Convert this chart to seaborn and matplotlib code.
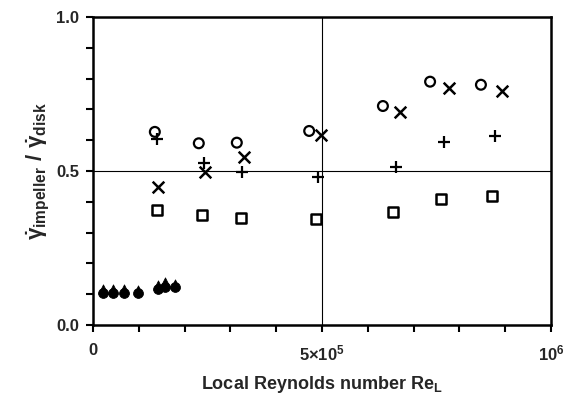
import numpy as np
import pandas as pd
import matplotlib
matplotlib.use("Agg")
import matplotlib.pyplot as plt
import seaborn as sns

# --- data ---
circ_x = [1.35e5, 2.31e5, 3.14e5, 4.72e5, 6.33e5, 7.36e5, 8.47e5]
circ_y = [0.627, 0.590, 0.592, 0.630, 0.711, 0.790, 0.780]

cross_x = [1.42e5, 2.45e5, 3.30e5, 4.98e5, 6.70e5, 7.77e5, 8.93e5]
cross_y = [0.448, 0.497, 0.545, 0.617, 0.690, 0.770, 0.760]

plus_x = [1.40e5, 2.42e5, 3.25e5, 4.91e5, 6.62e5, 7.66e5, 8.78e5]
plus_y = [0.604, 0.526, 0.497, 0.480, 0.513, 0.594, 0.614]

sq_x = [1.40e5, 2.38e5, 3.23e5, 4.87e5, 6.55e5, 7.60e5, 8.71e5]
sq_y = [0.373, 0.357, 0.347, 0.344, 0.367, 0.409, 0.419]

fc_x = [2.2e4, 4.4e4, 6.8e4, 9.8e4, 1.42e5, 1.57e5, 1.79e5]
fc_y = [0.105, 0.105, 0.105, 0.103, 0.118, 0.125, 0.123]

ft_x = [2.2e4, 4.4e4, 6.8e4, 9.8e4, 1.42e5, 1.57e5, 1.79e5]
ft_y = [0.118, 0.118, 0.118, 0.113, 0.130, 0.140, 0.133]

xticks = [0, 5e5, 1e6]
xticklabels = ["0", r"5$\times$10$^5$", r"10$^6$"]
yticks = [0.0, 0.5, 1.0]
yticklabels = ["0.0", "0.5", "1.0"]

sns.set_style("ticks")
plt.rcParams['font.family'] = ['Liberation Sans', 'DejaVu Sans']
plt.rcParams['font.weight'] = 'bold'
plt.rcParams['mathtext.fontset'] = 'custom'
plt.rcParams['mathtext.rm'] = 'Liberation Sans:bold'
plt.rcParams['mathtext.it'] = 'Liberation Sans:bold'
plt.rcParams['mathtext.bf'] = 'Liberation Sans:bold'
plt.rcParams['mathtext.default'] = 'bf'

fig = plt.figure(figsize=(5.68, 3.98), dpi=100)
ax = fig.add_axes([93/568, 1-325/398, (551-93)/568, (325-17)/398])

# filled circles and triangles
sns.scatterplot(x=fc_x, y=fc_y, marker='o', s=50, color='black', edgecolor='black', ax=ax, zorder=3)
sns.scatterplot(x=ft_x, y=ft_y, marker='^', s=45, color='black', edgecolor='black', ax=ax, zorder=3)
# open circles
sns.scatterplot(x=circ_x, y=circ_y, marker='o', s=50, facecolor='none', edgecolor='black', linewidth=1.6, ax=ax, zorder=3)
# open squares
sns.scatterplot(x=sq_x, y=sq_y, marker='s', s=55, facecolor='none', edgecolor='black', linewidth=1.8, ax=ax, zorder=3)
# crosses
sns.scatterplot(x=cross_x, y=cross_y, marker='x', s=70, color='black', linewidth=1.8, ax=ax, zorder=3)
# plus
sns.scatterplot(x=plus_x, y=plus_y, marker='+', s=80, color='black', linewidth=1.6, ax=ax, zorder=3)

ax.set_xlim(0, 1e6)
ax.set_ylim(0, 1.0)
ax.axvline(5e5, color='black', lw=0.8, zorder=1)
ax.axhline(0.5, color='black', lw=0.8, zorder=1)

for sp in ax.spines.values():
    sp.set_color('black')
    sp.set_linewidth(1.8)

ax.set_xlabel(r"Local Reynolds number Re$_\mathbf{L}$", fontsize=13, fontweight='bold', labelpad=8)
ax.set_ylabel(r"$\dot{\gamma}_{\mathbf{impeller}}\ /\ \dot{\gamma}_{\mathbf{disk}}$", fontsize=16, labelpad=4)

ax.set_xticks(xticks)
ax.set_xticks(np.arange(0, 1e6 + 1, 1e5), minor=True)
ax.set_yticks(yticks)
ax.set_yticks(np.arange(0, 1.01, 0.1), minor=True)
ax.set_xticklabels(xticklabels, fontsize=12, fontweight='bold')
ax.set_yticklabels(yticklabels, fontsize=12, fontweight='bold')
ax.tick_params(axis='both', which='both', direction='out', length=5, width=1.5,
               color='black', bottom=True, left=True, top=False, right=False)
ax.tick_params(axis='x', which='major', pad=8)
ax.tick_params(axis='y', which='major', pad=5)
for tk in (ax.xaxis.get_major_ticks() + ax.xaxis.get_minor_ticks()
           + ax.yaxis.get_major_ticks() + ax.yaxis.get_minor_ticks()):
    tk.tick1line.set_visible(True)
    tk.tick1line.set_markersize(5)
    tk.tick1line.set_markeredgewidth(1.5)
    tk.tick1line.set_color('black')

fig.savefig("out.png", dpi=100)
